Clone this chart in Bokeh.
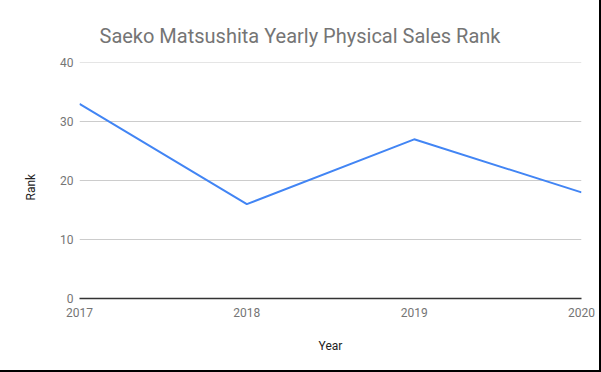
from bokeh.plotting import figure
from bokeh.models import FixedTicker, Range1d, Title
from bokeh.embed import file_html
from bokeh.resources import INLINE

years = [2017, 2018, 2019, 2020]
ranks = [33, 16, 27, 18]
y_ticks = [0, 10, 20, 30, 40]
title_text = "Saeko Matsushita Yearly Physical Sales Rank"
x_label = "Year"
y_label = "Rank"

p = figure(width=601, height=372, output_backend="svg", toolbar_location=None,
           x_range=Range1d(2017, 2020), y_range=Range1d(0, 40.03),
           min_border_left=79, min_border_right=20, min_border_top=62, min_border_bottom=74)
p.styles = {"border-right": "2px solid black", "border-bottom": "2px solid black"}

p.title.text = title_text
p.title.text_font = "Roboto"
p.title.text_font_size = "20px"
p.title.text_font_style = "normal"
p.title.text_color = "#757575"
p.title.align = "left"
p.title.offset = 20
p.title.standoff = 29

p.line(years, ranks, line_color="#4285F4", line_width=2)

p.outline_line_color = None
p.xgrid.grid_line_color = None
p.ygrid.grid_line_color = "#cccccc"
p.ygrid.grid_line_width = 1

p.xaxis.ticker = FixedTicker(ticks=years)
p.yaxis.ticker = FixedTicker(ticks=y_ticks)

for ax in (p.xaxis[0], p.yaxis[0]):
    ax.major_tick_line_color = None
    ax.minor_tick_line_color = None
    ax.major_tick_out = 0
    ax.major_tick_in = 0
    ax.major_label_text_font = "Roboto"
    ax.major_label_text_font_size = "12px"
    ax.major_label_text_color = "#757575"
    ax.axis_label_text_font = "Roboto"
    ax.axis_label_text_font_size = "12px"
    ax.axis_label_text_font_style = "normal"
    ax.axis_label_text_color = "#222222"

p.xaxis.axis_line_color = "#333333"
p.xaxis.axis_line_width = 1.5
p.yaxis.axis_line_color = None
p.xaxis.axis_label = x_label
p.xaxis.major_label_standoff = 9
p.yaxis.major_label_standoff = 6
p.xaxis.axis_label_standoff = 19

ytitle = Title(text=y_label, align="left", offset=98, standoff=40,
               text_font="Roboto", text_font_size="12px", text_font_style="normal",
               text_color="#222222")
p.add_layout(ytitle, "left")

open("out.html", "w").write(file_html(p, INLINE))
